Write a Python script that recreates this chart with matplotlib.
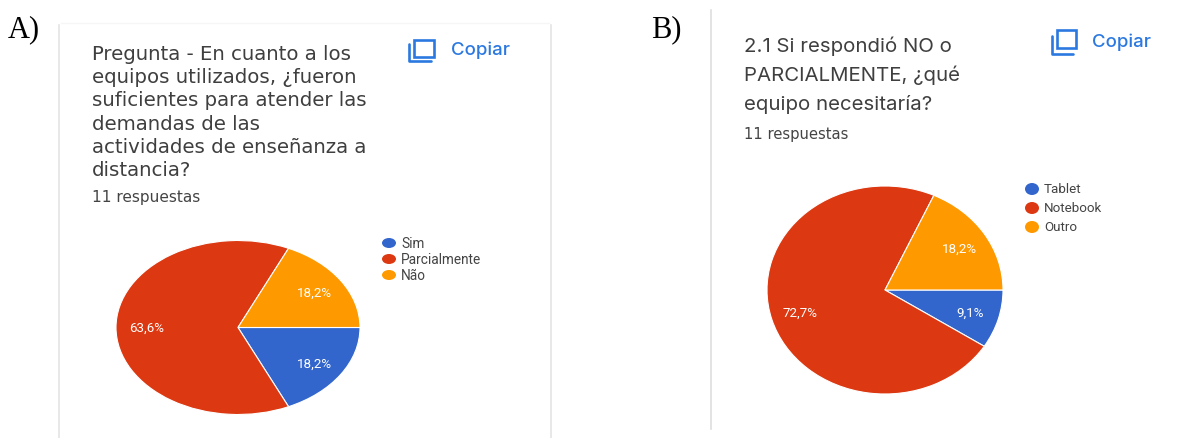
import matplotlib
matplotlib.use('Agg')
import matplotlib.pyplot as plt
from matplotlib.patches import Ellipse, Rectangle

W, H = 1177, 439

colors = ['#3366cc', '#dc3912', '#ff9900']

labels_a = ['Sim', 'Parcialmente', 'Não']
values_a = [18.2, 63.6, 18.2]
title_a = ['Pregunta - En cuanto a los', 'equipos utilizados, ¿fueron',
           'suficientes para atender las', 'demandas de las',
           'actividades de enseñanza a', 'distancia?']

labels_b = ['Tablet', 'Notebook', 'Outro']
values_b = [9.1, 72.7, 18.2]
title_b = ['2.1 Si respondió NO o', 'PARCIALMENTE, ¿qué', 'equipo necesitaría?']

responses = '11 respuestas'

plt.rcParams['font.family'] = ['Inter', 'DejaVu Sans']
fig = plt.figure(figsize=(W / 100, H / 100), dpi=100)

# background axes in image pixels, y going down
bg = fig.add_axes([0, 0, 1, 1])
bg.set_xlim(0, W)
bg.set_ylim(H, 0)
bg.axis('off')


def pct(v):
    return f'{v:.1f}%'.replace('.', ',')


def draw_pie(values, cx, cy, rx, ry, size):
    ax = fig.add_axes([(cx - rx) / W, 1 - (cy + ry) / H, 2 * rx / W, 2 * ry / H])
    ax.pie(values, colors=colors, startangle=0, counterclock=False, normalize=True,
           autopct=pct, pctdistance=0.75,
           wedgeprops={'edgecolor': 'white', 'linewidth': 0.8},
           textprops={'color': 'white', 'fontsize': size, 'family': ['Roboto', 'DejaVu Sans']})
    ax.set_aspect('auto')
    ax.set_xlim(-1, 1)
    ax.set_ylim(-1, 1)


def draw_icon(x0, x1, y0, y1, lx, ly0, lx1, ly1):
    blue = '#2a78e0'
    bg.add_patch(Rectangle((x0, y0), x1 - x0, y1 - y0, fill=False, ec=blue, lw=1.9))
    bg.plot([lx, lx, lx1], [ly0, ly1, ly1], color=blue, lw=1.9, solid_capstyle='round')


def draw_legend(labels, x, ys, ew, eh, tx, size):
    for lab, c, y in zip(labels, colors, ys):
        bg.add_patch(Ellipse((x, y), ew, eh, color=c, lw=0))
        bg.text(tx, y, lab, fontsize=size, color='#444444', va='center', ha='left',
                family=['Roboto', 'DejaVu Sans'])


# card A edges, the top one is very faint
bg.plot([59, 59], [26, 439], color='#e4e4e4', lw=1.2)
bg.plot([551, 551], [26, 439], color='#e4e4e4', lw=1.2)
bg.plot([61, 549], [24, 24], color='#f6f6f6', lw=1)
# card B, only its left edge is in frame
bg.plot([711, 711], [11, 430], color='#dcdee0', lw=1.2)

bg.text(8, 30, 'A)', family='Liberation Serif', fontsize=22, color='black', va='center')
bg.text(651, 30, 'B)', family='Liberation Serif', fontsize=22, color='black', va='center')

for i, line in enumerate(title_a):
    bg.text(92, 54 + i * 23.4, line, fontsize=14.2, color='#3f3f3f', va='center',
            family='DejaVu Sans')
bg.text(92, 198, responses, fontsize=11.1, color='#444444', va='center', family='DejaVu Sans')

for i, line in enumerate(title_b):
    bg.text(744, 46 + i * 29.5, line, fontsize=14.7, color='#3f3f3f', va='center')
bg.text(744, 135, responses, fontsize=10.6, color='#444444', va='center', family='DejaVu Sans')

draw_icon(414, 434, 41, 58, 409, 45, 431, 62)
bg.text(451, 50, 'Copiar', fontsize=13.4, color='#2a78e0', va='center', fontweight='medium')
draw_icon(1057, 1076, 31, 49, 1052, 37, 1073, 55)
bg.text(1092, 42, 'Copiar', fontsize=13.4, color='#2a78e0', va='center', fontweight='medium')

draw_pie(values_a, 238, 328.5, 122, 87, 9.6)
draw_pie(values_b, 885, 291, 118, 104, 9.6)

draw_legend(labels_a, 389, [244, 260, 276], 14, 10, 401, 9.8)
draw_legend(labels_b, 1032, [190, 209, 228], 14, 12, 1044, 9.6)

fig.savefig('out.png', dpi=100)
